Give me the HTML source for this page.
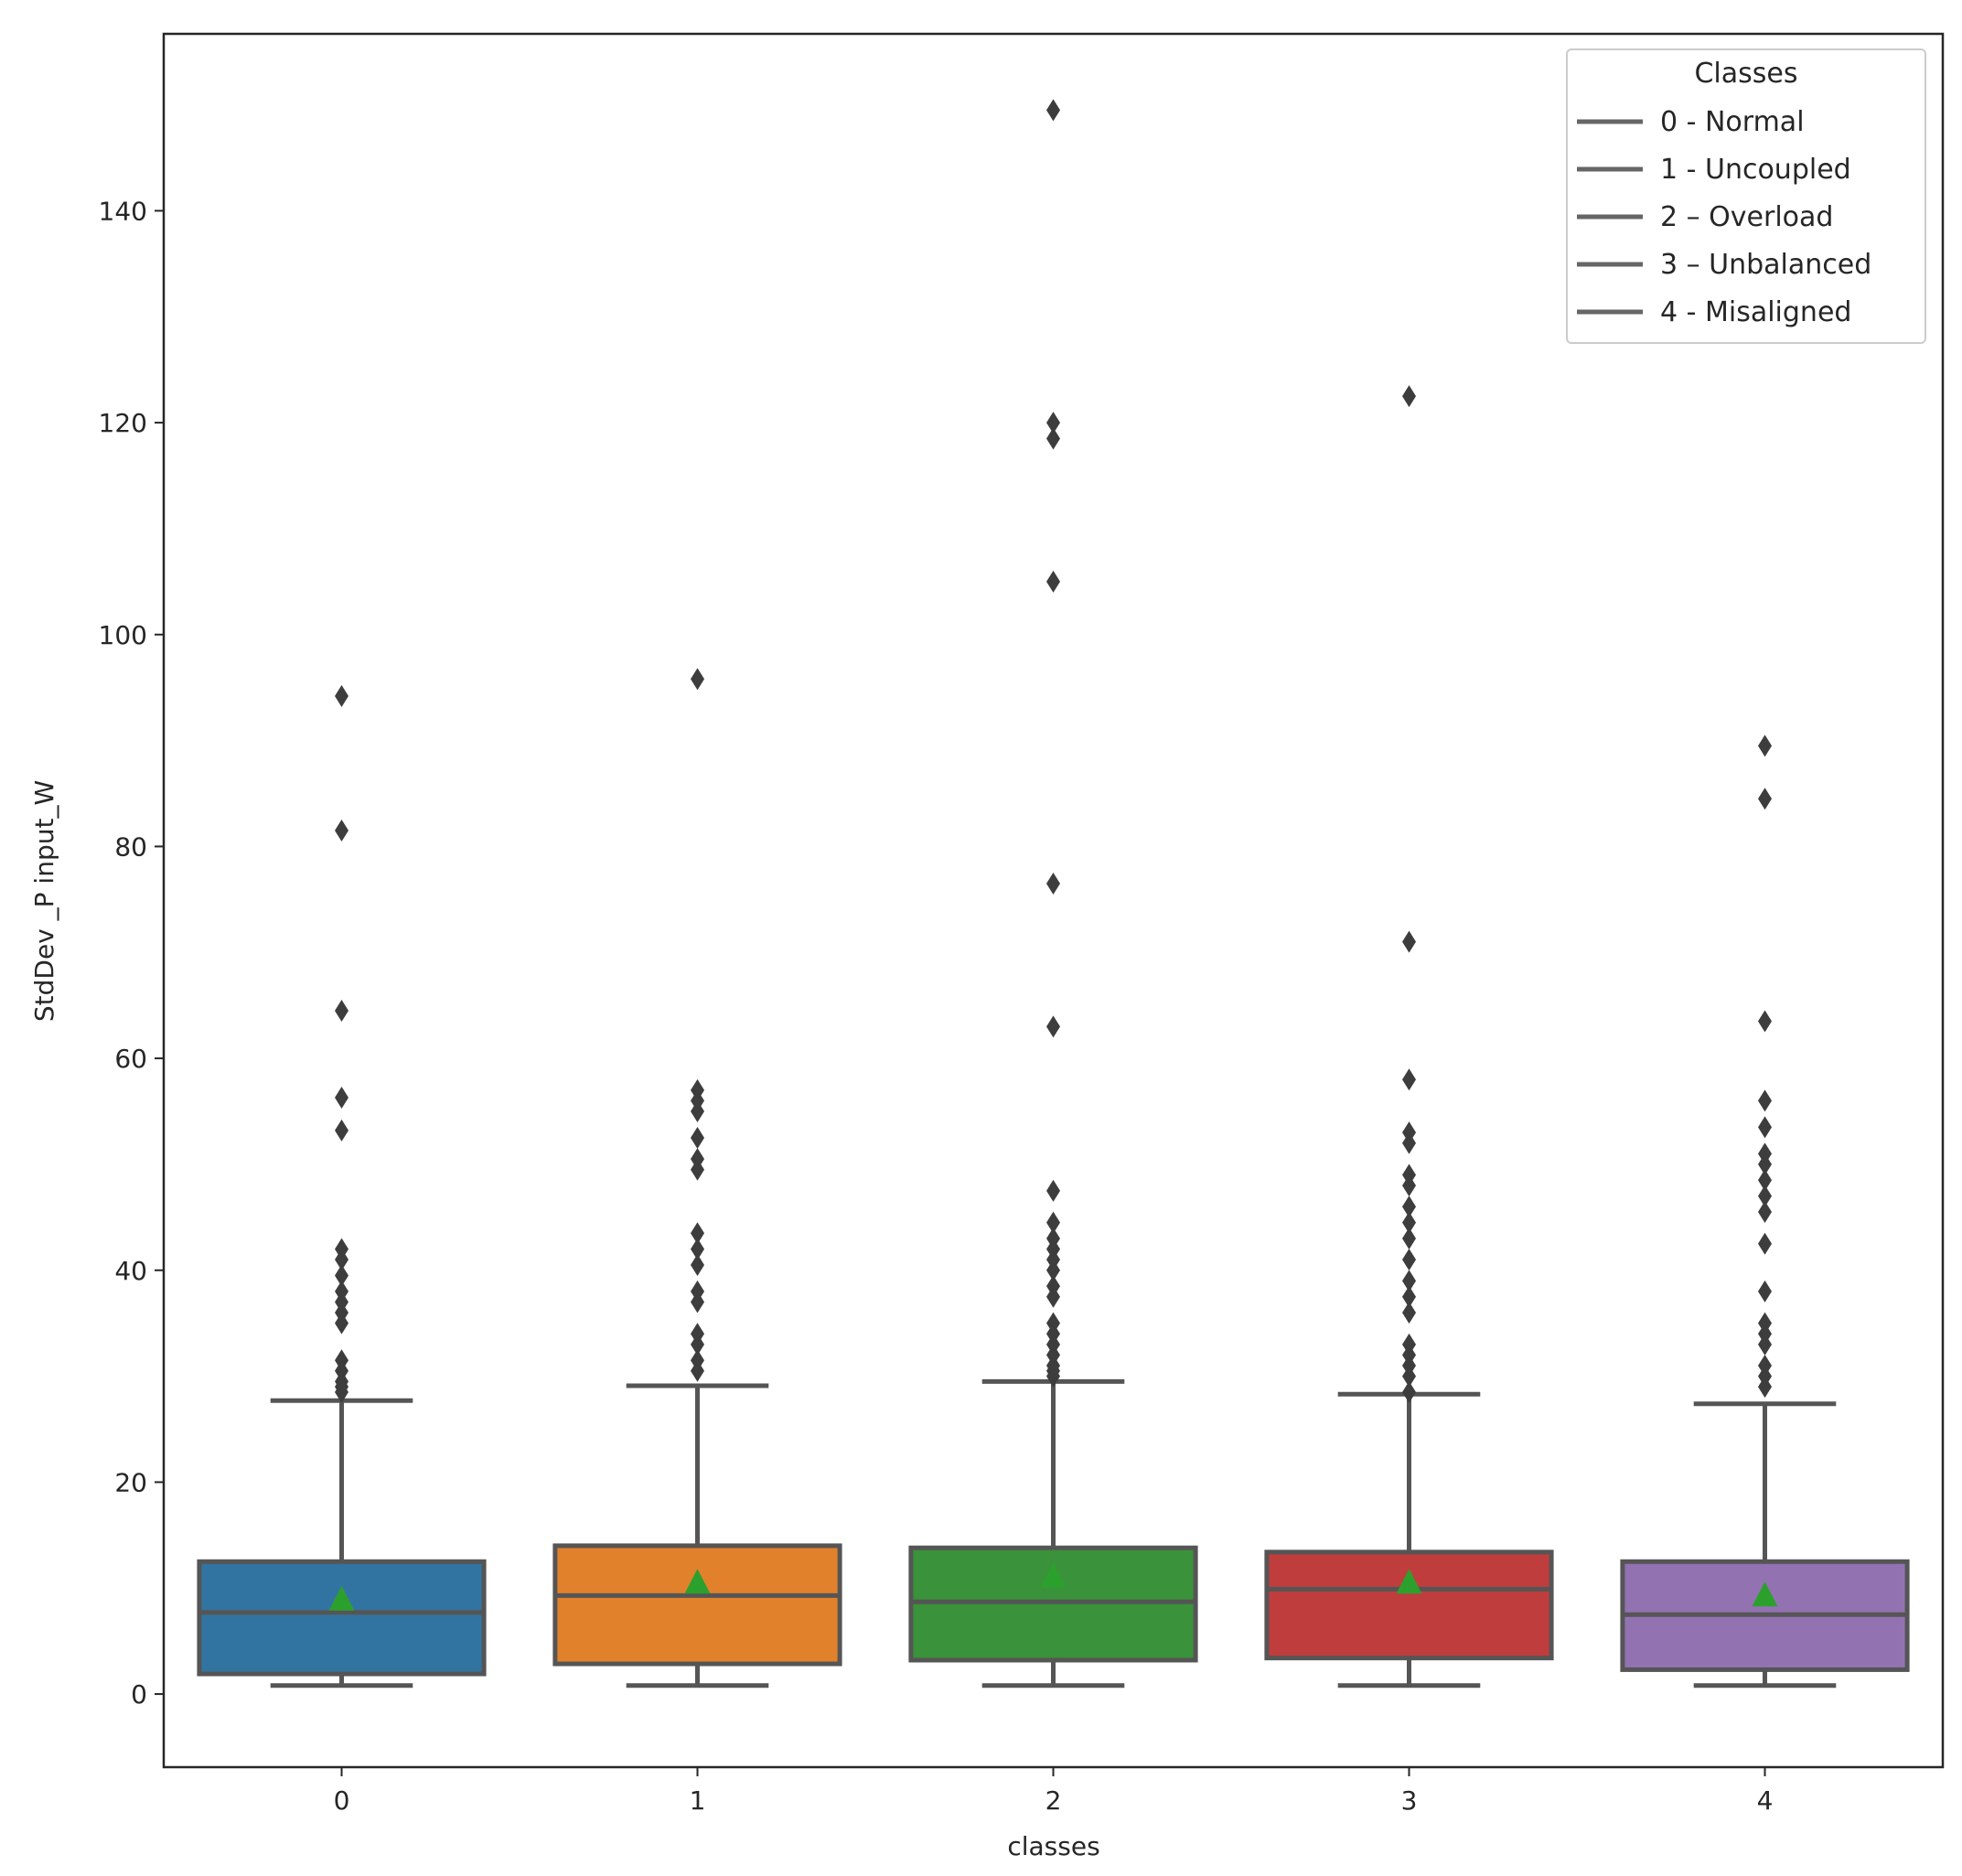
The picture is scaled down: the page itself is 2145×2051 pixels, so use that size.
<!DOCTYPE html>
<html><head><meta charset="utf-8"><style>
html,body{margin:0;padding:0;background:#fff;}
svg text{font-family:"DejaVu Sans","Liberation Sans",sans-serif;fill:#262626;}
</style></head><body>
<svg id="chart" width="2145" height="2046" xmlns="http://www.w3.org/2000/svg">
<rect x="0" y="0" width="2145" height="2046" fill="#fff"/>
<g id="plot"></g>
<rect x="179" y="37" width="1945" height="1895" fill="none" stroke="#262626" stroke-width="2.5"/>
<g id="yticks"></g><g id="xticks"></g>
<text x="0" y="0" font-size="28" text-anchor="middle" transform="translate(58,985) rotate(-90)">StdDev _P input_W</text>
<text x="1152" y="2028" font-size="28" text-anchor="middle">classes</text>
<g>
<rect x="1713" y="54" width="392" height="321" rx="5" fill="#fff" stroke="#ccc" stroke-width="2"/>
<text x="1909" y="90" font-size="30" text-anchor="middle">Classes</text>
<g id="legend-entries"></g>
</g>
</svg>
<script>
const categories=["0","1","2","3","4"];
const colors=["#3274a1","#e1812c","#3a923a","#c03d3e","#9372b2"];
const q1=[1.9,2.85,3.2,3.4,2.3];
const q3=[12.5,14.0,13.8,13.4,12.5];
const medians=[7.7,9.3,8.7,9.9,7.5];
const means=[9.0,10.6,11.2,10.6,9.4];
const whiskLow=[0.8,0.8,0.8,0.8,0.8];
const whiskHigh=[27.7,29.1,29.5,28.3,27.4];
const outliers0=[94.2,81.5,64.5,56.3,53.2,42,41,39.5,38,37,36,35,31.5,30.5,29.5,29,28.5];
const outliers1=[95.8,57,56,55,52.5,50.5,49.5,43.5,42,40.5,38,37,34,33,31.5,30.5];
const outliers2=[149.5,120,118.5,105,76.5,63,47.5,44.5,43,42,41,40,38.5,37.5,35,34,33,32,31,30.5,30];
const outliers3=[122.5,71,58,53,52,49,48,46,44.5,43,41,39,37.5,36,33,32,31,30,28.5];
const outliers4=[89.5,84.5,63.5,56,53.5,51,50,48.5,47,45.5,42.5,38,35,34,33,31,30,29];
const yTicks=[0,20,40,60,80,100,120,140];
const legendLabels=["0 - Normal","1 - Uncoupled","2 \u2013 Overload","3 \u2013 Unbalanced","4 - Misaligned"];
const outliers=[outliers0,outliers1,outliers2,outliers3,outliers4];
const NS="http://www.w3.org/2000/svg";
const yMin=-6.9,yMax=156.7,pTop=37,pBot=1932,pLeft=179,pRight=2124;
function y(v){return pBot-(v-yMin)/(yMax-yMin)*(pBot-pTop);}
const step=(pRight-pLeft)/categories.length;
function x(i){return pLeft+step*(i+0.5);}
function mk(tag,attrs,parent){const e=document.createElementNS(NS,tag);for(const k in attrs)e.setAttribute(k,attrs[k]);parent.appendChild(e);return e;}
const plot=document.getElementById('plot');
const bw=step*0.8, lc="#555", lw=5;
categories.forEach((c,i)=>{
  const g=mk('g',{},plot);
  
  
  const cx=x(i);
  mk('line',{x1:cx,x2:cx,y1:y(q3[i]),y2:y(whiskHigh[i]),stroke:lc,'stroke-width':lw},g);
  mk('line',{x1:cx,x2:cx,y1:y(q1[i]),y2:y(whiskLow[i]),stroke:lc,'stroke-width':lw},g);
  mk('line',{x1:cx-bw/4,x2:cx+bw/4,y1:y(whiskHigh[i]),y2:y(whiskHigh[i]),stroke:lc,'stroke-width':lw},g);
  mk('line',{x1:cx-bw/4,x2:cx+bw/4,y1:y(whiskLow[i]),y2:y(whiskLow[i]),stroke:lc,'stroke-width':lw},g);
  mk('rect',{x:cx-bw/2,y:y(q3[i]),width:bw,height:y(q1[i])-y(q3[i]),fill:colors[i],stroke:lc,'stroke-width':lw},g);
  mk('line',{x1:cx-bw/2,x2:cx+bw/2,y1:y(medians[i]),y2:y(medians[i]),stroke:lc,'stroke-width':lw},g);
  const my=y(means[i]);
  const t=mk('polygon',{points:`${cx-14},${my+13} ${cx+14},${my+13} ${cx},${my-14}`,fill:"#2ca02c"},g);
  
  
  outliers[i].forEach(v=>{
    const oy=y(v);
    const d=mk('polygon',{points:`${cx},${oy-12} ${cx+7.5},${oy} ${cx},${oy+12} ${cx-7.5},${oy}`,fill:"#3d3d3d"},g);
    
    
  });
});
const yt=document.getElementById('yticks');
yTicks.forEach(v=>{
  const yy=y(v);
  mk('line',{x1:pLeft-10,x2:pLeft,y1:yy,y2:yy,stroke:"#262626",'stroke-width':2},yt);
  const t=mk('text',{x:pLeft-18,y:yy+10,'font-size':28,'text-anchor':'end'},yt);
  
  
  t.textContent=v;
});
const xt=document.getElementById('xticks');
categories.forEach((c,i)=>{
  mk('line',{x1:x(i),x2:x(i),y1:pBot,y2:pBot+10,stroke:"#262626",'stroke-width':2},xt);
  const t=mk('text',{x:x(i),y:pBot+46,'font-size':28,'text-anchor':'middle'},xt);
  
  
  t.textContent=c;
});
const le=document.getElementById('legend-entries');
legendLabels.forEach((l,i)=>{
  const yy=133+i*52;
  const ln=mk('line',{x1:1724,x2:1796,y1:yy,y2:yy,stroke:"#666",'stroke-width':5},le);
  
  
  const t=mk('text',{x:1815,y:yy+10,'font-size':30},le);
  
  
  t.textContent=l;
});
</script>
</body></html>
